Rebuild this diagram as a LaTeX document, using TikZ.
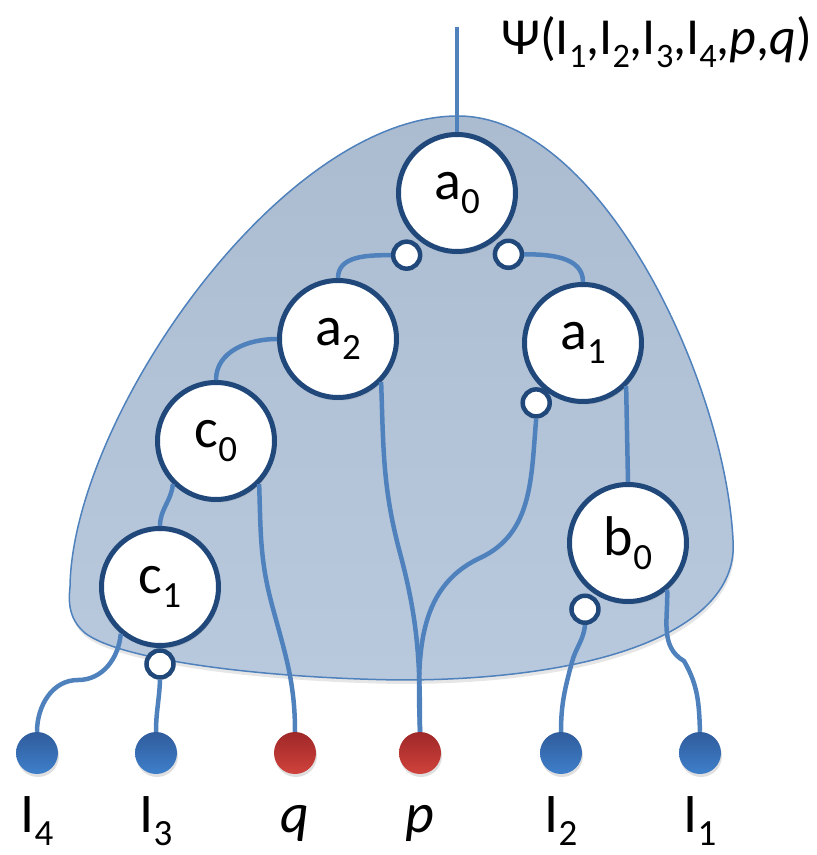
\documentclass[tikz,border=0pt]{standalone}
\usepackage{fontspec}
\setmainfont{Carlito}
\usepackage{graphicx}
\usetikzlibrary{positioning, calc, shadows}
\definecolor{ringblue}{RGB}{33,72,122}
\definecolor{wireblue}{RGB}{79,129,189}
\definecolor{blobtop}{RGB}{172,188,208}
\definecolor{blobbot}{RGB}{184,201,222}
\definecolor{dotbluetop}{RGB}{48,92,156}
\definecolor{dotbluebot}{RGB}{62,127,202}
\definecolor{dotredtop}{RGB}{158,40,40}
\definecolor{dotredbot}{RGB}{208,66,60}
\newcommand{\sub}[1]{\raisebox{-0.25em}{\scalebox{0.66}{#1}}}
\tikzset{
  tensor/.style={circle, draw=ringblue, fill=white, line width=5pt, minimum size=117pt,
      inner sep=0pt, font=\fontsize{56}{60}\selectfont,
      drop shadow={opacity=0.25, shadow xshift=1.5pt, shadow yshift=-3pt}},
  port/.style={circle, draw=ringblue, fill=white, line width=4.5pt, minimum size=27pt, inner sep=0pt},
  wire/.style={wireblue, line width=4.5pt},
  leaf/.style={circle, minimum size=42pt, inner sep=0pt, top color=#1top, bottom color=#1bot,
      drop shadow={opacity=0.25, shadow xshift=1pt, shadow yshift=-3pt}},
  leaflbl/.style={anchor=base, inner sep=0pt, font=\fontsize{56}{60}\selectfont},
}

\begin{document}
\begin{tikzpicture}[x=1pt, y=1pt]
  \useasboundingbox (0,0) rectangle (817,855);
  % shaded region
  \path[draw=wireblue, line width=1.5pt, top color=blobtop, bottom color=blobbot,
      drop shadow={opacity=0.2, shadow xshift=1pt, shadow yshift=-4pt}]
    (458,739) .. controls (600,739) and (725,475) .. (733,315)
    .. controls (740,225) and (600,175) .. (400,175)
    .. controls (260,177) and (120,195) .. (85,222)
    .. controls (70,235) and (68,250) .. (70,268)
    .. controls (72,435) and (280,739) .. cycle;

  % tensors
  \node[tensor] (a0) at (457,662) {a\sub{0}};
  \node[tensor] (a2) at (338,516) {a\sub{2}};
  \node[tensor] (a1) at (583,512) {a\sub{1}};
  \node[tensor] (c0) at (216,414) {c\sub{0}};
  \node[tensor] (c1) at (160,268) {c\sub{1}};
  \node[tensor] (b0) at (628,312) {b\sub{0}};

  % ports
  \node[port] (a0l) at ($(a0)+(231:80)$) {};
  \node[port] (a0r) at ($(a0)+(310:80)$) {};
  \node[port] (a1p) at ($(a1)+(232:76)$) {};
  \node[port] (b0p) at ($(b0)+(237:79)$) {};
  \node[port] (c1p) at ($(c1)+(270:77)$) {};

  % leaves
  \foreach \n/\x/\c in {i4/37/dotblue, i3/156/dotblue, q/295/dotred,
                        p/420/dotred, i2/561/dotblue, i1/700/dotblue}
    \node[leaf=\c] (\n) at (\x,102) {};
  \node[leaflbl] (t-i4) at ($(i4)+(0,-79)$) {I\sub{4}};
  \node[leaflbl] (t-i3) at ($(i3)+(0,-79)$) {I\sub{3}};
  \node[leaflbl] (t-q) at ($(q)+(0,-79)$) {\textit{q}};
  \node[leaflbl] (t-p) at ($(p)+(0,-79)$) {\textit{p}};
  \node[leaflbl] (t-i2) at ($(i2)+(0,-79)$) {I\sub{2}};
  \node[leaflbl] (t-i1) at ($(i1)+(0,-79)$) {I\sub{1}};

  % output
  \coordinate (out) at (457,828);
  \node[anchor=base west, inner sep=0pt, font=\fontsize{52}{56}\selectfont] (psi) at (501,800)
    {Ψ(I\sub{1},I\sub{2},I\sub{3},I\sub{4},\textit{p},\textit{q})};

  % wires
  \draw[wire] (out) -- (a0.north);
  \draw[wire] (a0l.west) to[out=180,in=90] (a2.north);
  \draw[wire] (a0r.east) to[out=0,in=90] (a1.north);
  \draw[wire] (a2.west) to[out=180,in=90] (c0.north);
  \draw[wire] (c0.225) to[out=-95,in=90] (c1.north);
  \draw[wire] (a2.-45) to[out=-88,in=105] (400,302) to[out=-75,in=90] (p.north);
  \draw[wire] (a1p.south) to[out=-95,in=25] (480,297) to[out=-155,in=92] (p.north);
  \draw[wire] (c0.-45) to[out=-88,in=105] (272,250) to[out=-75,in=90] (q.north);
  \draw[wire] (c1.230) to[out=-95,in=0] (78,175) to[out=180,in=90] (i4.north);
  \draw[wire] (c1p.south) to[out=-92,in=90] (i3.north);
  \draw[wire] (a1.-45) -- (b0.north);
  \draw[wire] (b0p.south) to[out=-95,in=75] (572,193) to[out=-105,in=90] (i2.north);
  \draw[wire] (b0.-50) to[out=-88,in=150] (684,194) to[out=-60,in=92] (i1.north);
\end{tikzpicture}
\end{document}
